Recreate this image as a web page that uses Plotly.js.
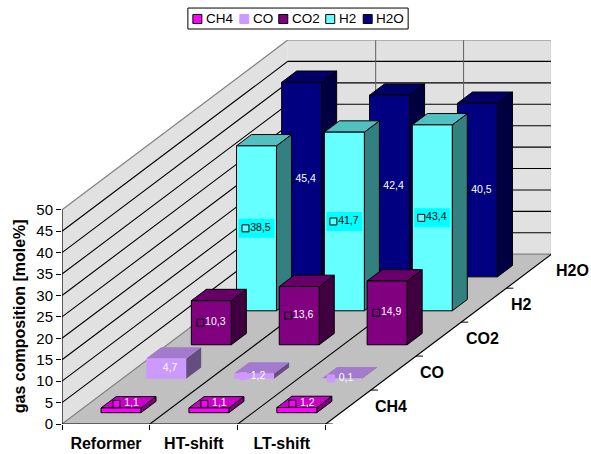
<!DOCTYPE html>
<html>
<head>
<meta charset="utf-8">
<script src="https://cdn.plot.ly/plotly-3.0.1.min.js"></script>
<style>html,body{margin:0;padding:0;background:#fff}</style>
</head>
<body>
<div id="chart" style="width:591px;height:454px"></div>
<script>
// Gas composition per shift stage, mole %
const stages = ['Reformer', 'HT-shift', 'LT-shift'];
const species = ['CH4', 'CO', 'CO2', 'H2', 'H2O'];
const ch4 = [1.1, 1.1, 1.2];
const co = [4.7, 1.2, 0.1];
const co2 = [10.3, 13.6, 14.9];
const h2 = [38.5, 41.7, 43.4];
const h2o = [45.4, 42.4, 40.5];
const yTicks = [0, 5, 10, 15, 20, 25, 30, 35, 40, 45, 50];

// Face colours for each species: front, top, side, and outline / label colours
const faceColors = [
  {front: '#FF00FF', top: '#CC00CC', side: '#800080', line: '#000000', text: '#FFFFFF'},
  {front: '#CC99FF', top: '#A37ACC', side: '#664D80', line: null, text: '#FFFFFF'},
  {front: '#800080', top: '#660066', side: '#400040', line: '#000000', text: '#FFFFFF'},
  {front: '#66FFFF', top: '#52C0C0', side: '#338080', line: '#000000', text: '#000000'},
  {front: '#000080', top: '#000066', side: '#000040', line: '#000000', text: '#FFFFFF'}
];
const values = [ch4, co, co2, h2, h2o];

// Pixel scale of the oblique box
const boxLeft = 61.5, boxBottom = 424, boxRight = 551, boxTop = 39.5;
const catPx = 88, unitPx = 4.29, depthXPx = 45.2, depthYPx = 34;
const W = 591, H = 454;
const nCat = stages.length, nSer = species.length, vMax = 50;

// Oblique projection expressed in axis units: x counts categories, y counts mole %
const X = (c, s) => c + s * depthXPx / catPx;
const Y = (s, v) => v + s * depthYPx / unitPx;
const pt = (c, s, v) => [X(c, s), Y(s, v)];

const traces = [];
function poly(list, fill, line, width) {
  const x = [], y = [];
  list.forEach(points => {
    points.concat([points[0]]).forEach(p => { x.push(p[0]); y.push(p[1]); });
    x.push(null); y.push(null);
  });
  traces.push({
    type: 'scatter', mode: line ? 'lines' : 'none', x, y, fill: 'toself', fillcolor: fill,
    line: line ? {color: line, width: width || 1} : {width: 0},
    hoverinfo: 'skip', showlegend: false, cliponaxis: false
  });
}
function path(points, color, width) {
  traces.push({
    type: 'scatter', mode: 'lines', x: points.map(p => p[0]), y: points.map(p => p[1]),
    line: {color, width: width || 1}, hoverinfo: 'skip', showlegend: false, cliponaxis: false
  });
}

// Walls and floor
poly([[pt(0, 0, 0), pt(0, nSer, 0), pt(0, nSer, vMax), pt(0, 0, vMax)]], '#E1E1E1');
poly([[pt(0, nSer, 0), pt(nCat, nSer, 0), pt(nCat, nSer, vMax), pt(0, nSer, vMax)]], '#E1E1E1');
poly([[pt(0, 0, 0), pt(nCat, 0, 0), pt(nCat, nSer, 0), pt(0, nSer, 0)]], '#C0C0C0');

// Value gridlines run along the side wall and across the back wall
yTicks.slice(1, -1).forEach(v => path([pt(0, 0, v), pt(0, nSer, v), pt(nCat, nSer, v)], '#000000', 1.1));
// Category dividers run across the floor and up the back wall
for (let c = 1; c < nCat; c++) {
  path([pt(c, 0, 0), pt(c, nSer, 0)], '#000000', 1.1);
  path([pt(c, nSer, 0), pt(c, nSer, vMax)], '#606060');
}
// Wall edges
path([pt(0, 0, vMax), pt(0, nSer, vMax), pt(nCat, nSer, vMax), pt(nCat, nSer, 0), pt(0, nSer, 0), pt(0, 0, 0)], '#808080', 1.2);
// Axis lines
path([pt(0, 0, vMax), pt(0, 0, 0), pt(nCat, 0, 0), pt(nCat, nSer, 0)], '#000000', 1.2);
// Depth-axis tick marks
for (let s = 0; s <= nSer; s++) {
  path([pt(nCat, s, 0), [X(nCat, s) + 7 / catPx, Y(s, 0)]], '#000000');
}

// Bar footprint within a category / series cell
const gapCat = 0.2727, widthCat = 0.4545, gapSer = 1 / 3, depthSer = 1 / 3;
// Label nudges for the flat front row, in pixels
const labelShift = [[6.5, -6.5], [0, 0], [0, 0], [0, 0], [0, 0]];

// Paint rows from the back wall forward so nearer bars cover farther ones
for (let s = nSer - 1; s >= 0; s--) {
  const col = faceColors[s], s0 = s + gapSer, s1 = s0 + depthSer;
  const fronts = [], tops = [], sides = [];
  values[s].forEach((v, c) => {
    const c0 = c + gapCat, c1 = c0 + widthCat;
    fronts.push([pt(c0, s0, 0), pt(c1, s0, 0), pt(c1, s0, v), pt(c0, s0, v)]);
    tops.push([pt(c0, s0, v), pt(c1, s0, v), pt(c1, s1, v), pt(c0, s1, v)]);
    sides.push([pt(c1, s0, 0), pt(c1, s1, 0), pt(c1, s1, v), pt(c1, s0, v)]);
  });
  poly(sides, col.side, col.line);
  poly(tops, col.top, col.line);
  poly(fronts, col.front, col.line);

  // Value labels: a small key square followed by the number, centred on the front face
  const keyX = [], keyY = [], txtX = [], txtY = [], txt = [];
  values[s].forEach((v, c) => {
    const cx = X(c + gapCat + widthCat / 2, s0) + labelShift[s][0] / catPx;
    const cy = Y(s0, v / 2) - labelShift[s][1] / unitPx;
    if (species[s] === 'H2') {
      const hw = 18 / catPx, hh = 9.5 / unitPx;
      poly([[[cx - hw, cy - hh], [cx + hw, cy - hh], [cx + hw, cy + hh], [cx - hw, cy + hh]]], '#00FFFF');
    }
    keyX.push(cx - 11 / catPx); keyY.push(cy);
    txtX.push(cx + 4 / catPx); txtY.push(cy);
    txt.push(String(v).replace('.', ','));
  });
  traces.push({
    type: 'scatter', mode: 'markers', x: keyX, y: keyY,
    marker: {symbol: 'square', size: 7, color: col.front, line: {color: col.line || col.front, width: 1}},
    hoverinfo: 'skip', showlegend: false, cliponaxis: false
  });
  traces.push({
    type: 'scatter', mode: 'text', x: txtX, y: txtY, text: txt, textposition: 'middle center',
    textfont: {family: 'Liberation Sans, Arial, sans-serif', size: 10.5, color: col.text},
    hoverinfo: 'skip', showlegend: false, cliponaxis: false
  });
}

// Pixel helpers for items placed around the plot box
const paperX = x => (x - boxLeft) / (boxRight - boxLeft);
const paperY = y => (boxBottom - y) / (boxBottom - boxTop);

const annotations = [];
const font = {family: 'Liberation Sans, Arial, sans-serif', color: '#000000'};

// Series names along the depth axis
species.forEach((name, s) => {
  annotations.push({
    x: X(nCat, s + 0.5), y: Y(s + 0.5, 0), xref: 'x', yref: 'y', text: '<b>' + name + '</b>',
    showarrow: false, xanchor: 'left', yanchor: 'middle', xshift: 26, yshift: 1, borderpad: 0,
    font: Object.assign({size: 16}, font)
  });
});

// Value axis title
annotations.push({
  x: paperX(18.5), y: paperY(316), xref: 'paper', yref: 'paper',
  text: '<b>gas composition [mole%]</b>', textangle: -90, showarrow: false,
  xanchor: 'center', yanchor: 'middle', font: Object.assign({size: 16}, font)
});

// Legend strip
const legendKeyX = [192.5, 239.5, 278.5, 325.5, 363];
const shapes = [{
  type: 'rect', xref: 'paper', yref: 'paper', x0: paperX(187.5), x1: paperX(408), y0: paperY(7.5), y1: paperY(28.5),
  fillcolor: '#FFFFFF', line: {color: '#000000', width: 1}
}];
species.forEach((name, s) => {
  const kx = legendKeyX[s];
  shapes.push({
    type: 'rect', xref: 'paper', yref: 'paper', x0: paperX(kx), x1: paperX(kx + 9), y0: paperY(14), y1: paperY(23),
    fillcolor: faceColors[s].front, line: {color: faceColors[s].line || faceColors[s].front, width: 1}
  });
  annotations.push({
    x: paperX(kx + 12), y: paperY(18), xref: 'paper', yref: 'paper', text: name, showarrow: false,
    xanchor: 'left', yanchor: 'middle', borderpad: 0, font: Object.assign({size: 13.5}, font)
  });
});

const layout = {
  width: W, height: H, autosize: false,
  margin: {l: boxLeft, r: W - boxRight, t: boxTop, b: H - boxBottom, pad: 0},
  paper_bgcolor: '#FFFFFF', plot_bgcolor: 'rgba(0,0,0,0)',
  showlegend: false, hovermode: false,
  xaxis: {
    range: [0, (boxRight - boxLeft) / catPx], fixedrange: true, showgrid: false, zeroline: false, showline: false,
    tickmode: 'array', tickvals: stages.map((_, i) => i + 0.5), ticktext: stages.map(t => '<b>' + t + '</b>'),
    ticks: '', ticklabelstandoff: 8, tickfont: Object.assign({size: 16}, font),
    minor: {tickmode: 'array', tickvals: [0, 1, 2, 3], ticks: 'outside', ticklen: 5, tickwidth: 1, tickcolor: '#000000', showgrid: false}
  },
  yaxis: {
    range: [0, (boxBottom - boxTop) / unitPx], fixedrange: true, showgrid: false, zeroline: false, showline: false,
    tickmode: 'array', tickvals: yTicks, ticks: 'outside', ticklen: 5, tickwidth: 1, tickcolor: '#000000',
    tickfont: Object.assign({size: 15}, font)
  },
  shapes, annotations
};

Plotly.newPlot('chart', traces, layout, {displayModeBar: false, staticPlot: true});
</script>
</body>
</html>
